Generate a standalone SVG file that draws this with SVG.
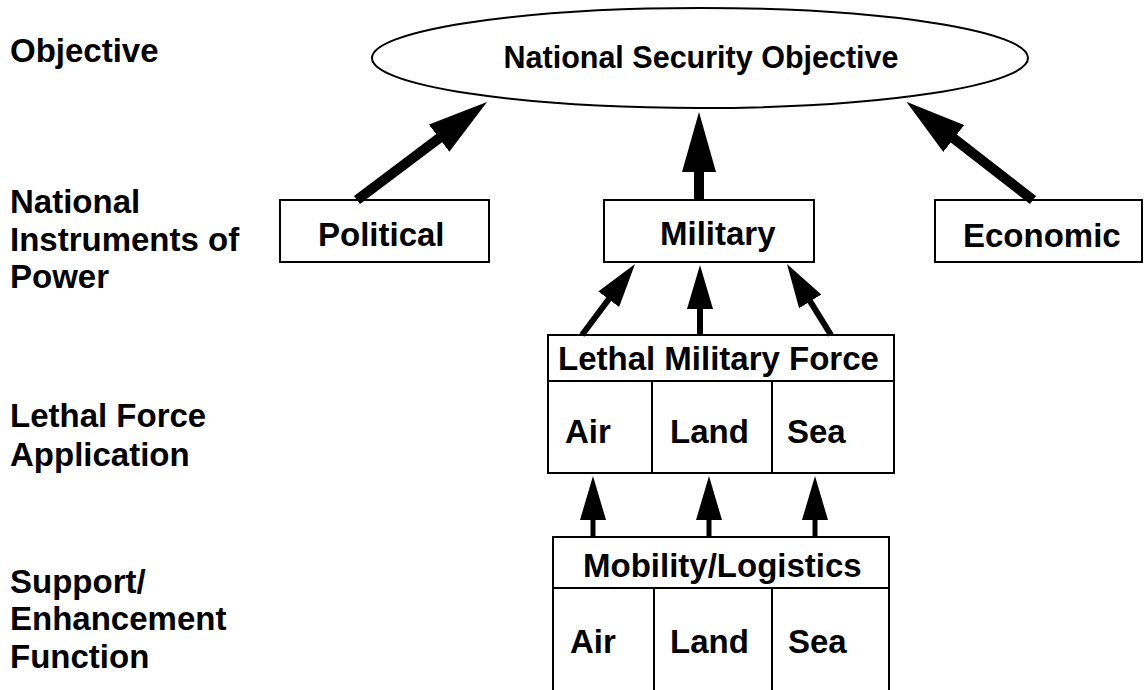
<svg xmlns="http://www.w3.org/2000/svg" width="1144" height="690" viewBox="0 0 1144 690">
<style>
text{font-family:"Liberation Sans",Arial,sans-serif;font-weight:bold;fill:#000}
.lbl{font-size:33px}
.t{font-size:33px}
.box{fill:#fff;stroke:#000;stroke-width:2}
.div{stroke:#000;stroke-width:2;fill:none}
.big{stroke:#000;stroke-width:10;fill:none;marker-end:url(#hb)}
.mid{stroke:#000;stroke-width:6;fill:none;marker-end:url(#hs)}
.low{stroke:#000;stroke-width:5;fill:none;marker-end:url(#hs)}
</style>
<defs>
<marker id="hb" markerUnits="userSpaceOnUse" viewBox="0 0 60 34" markerWidth="60" markerHeight="34" refX="2" refY="17" orient="auto"><path d="M0,0 L60,17 L0,34 z" fill="#000"/></marker>
<marker id="hs" markerUnits="userSpaceOnUse" viewBox="0 0 44 26" markerWidth="44" markerHeight="26" refX="2" refY="13" orient="auto"><path d="M0,0 L44,13 L0,26 z" fill="#000"/></marker>
</defs>
<rect width="1144" height="690" fill="#fff"/>
<g id="levels">
<text class="lbl" x="10" y="62">Objective</text>
<text class="lbl" x="10" y="213">National</text>
<text class="lbl" x="10" y="251">Instruments of</text>
<text class="lbl" x="10" y="288">Power</text>
<text class="lbl" x="10" y="427">Lethal Force</text>
<text class="lbl" x="10" y="466">Application</text>
<text class="lbl" x="10" y="593">Support/</text>
<text class="lbl" x="10" y="630">Enhancement</text>
<text class="lbl" x="10" y="668">Function</text>
</g>
<g id="objective">
<ellipse cx="700" cy="58" rx="328" ry="50" class="box"/>
<text x="701" y="68" text-anchor="middle" style="font-size:30.5px">National Security Objective</text>
</g>
<g id="political">
<rect x="280" y="200" width="209" height="62" class="box"/>
<text class="t" x="318" y="246">Political</text>
</g>
<g id="military">
<rect x="604" y="200" width="210" height="62" class="box"/>
<text class="t" x="660" y="245">Military</text>
</g>
<g id="economic">
<rect x="935" y="200" width="207" height="62" class="box"/>
<text class="t" x="963" y="247">Economic</text>
</g>
<g id="lethal">
<rect x="548" y="335" width="346" height="138" class="box"/>
<path class="div" d="M548,381 H894 M652,381 V473 M772,381 V473"/>
<text class="t" x="558" y="370">Lethal Military Force</text>
<text class="t" x="565" y="443">Air</text>
<text class="t" x="670" y="443">Land</text>
<text class="t" x="787" y="443">Sea</text>
</g>
<g id="mobility">
<rect x="553" y="537" width="336" height="163" class="box"/>
<path class="div" d="M553,588 H889 M654,588 V700 M772,588 V700"/>
<text class="t" x="583" y="577">Mobility/Logistics</text>
<text class="t" x="570" y="653">Air</text>
<text class="t" x="670" y="653">Land</text>
<text class="t" x="788" y="653">Sea</text>
</g>
<g id="connectors">
<line class="big" x1="357" y1="200" x2="440.7" y2="136.9"/>
<line class="big" x1="699" y1="200" x2="699" y2="170"/>
<line class="big" x1="1033" y1="200" x2="952.2" y2="137.3"/>
<line class="mid" x1="582" y1="335" x2="609.9" y2="297.6"/>
<line class="mid" x1="700" y1="335" x2="700" y2="307"/>
<line class="mid" x1="831" y1="335" x2="809.1" y2="299.7"/>
<line class="low" x1="593" y1="537" x2="593" y2="518"/>
<line class="low" x1="709" y1="537" x2="709" y2="518"/>
<line class="low" x1="815" y1="537" x2="815" y2="518"/>
</g>
</svg>
